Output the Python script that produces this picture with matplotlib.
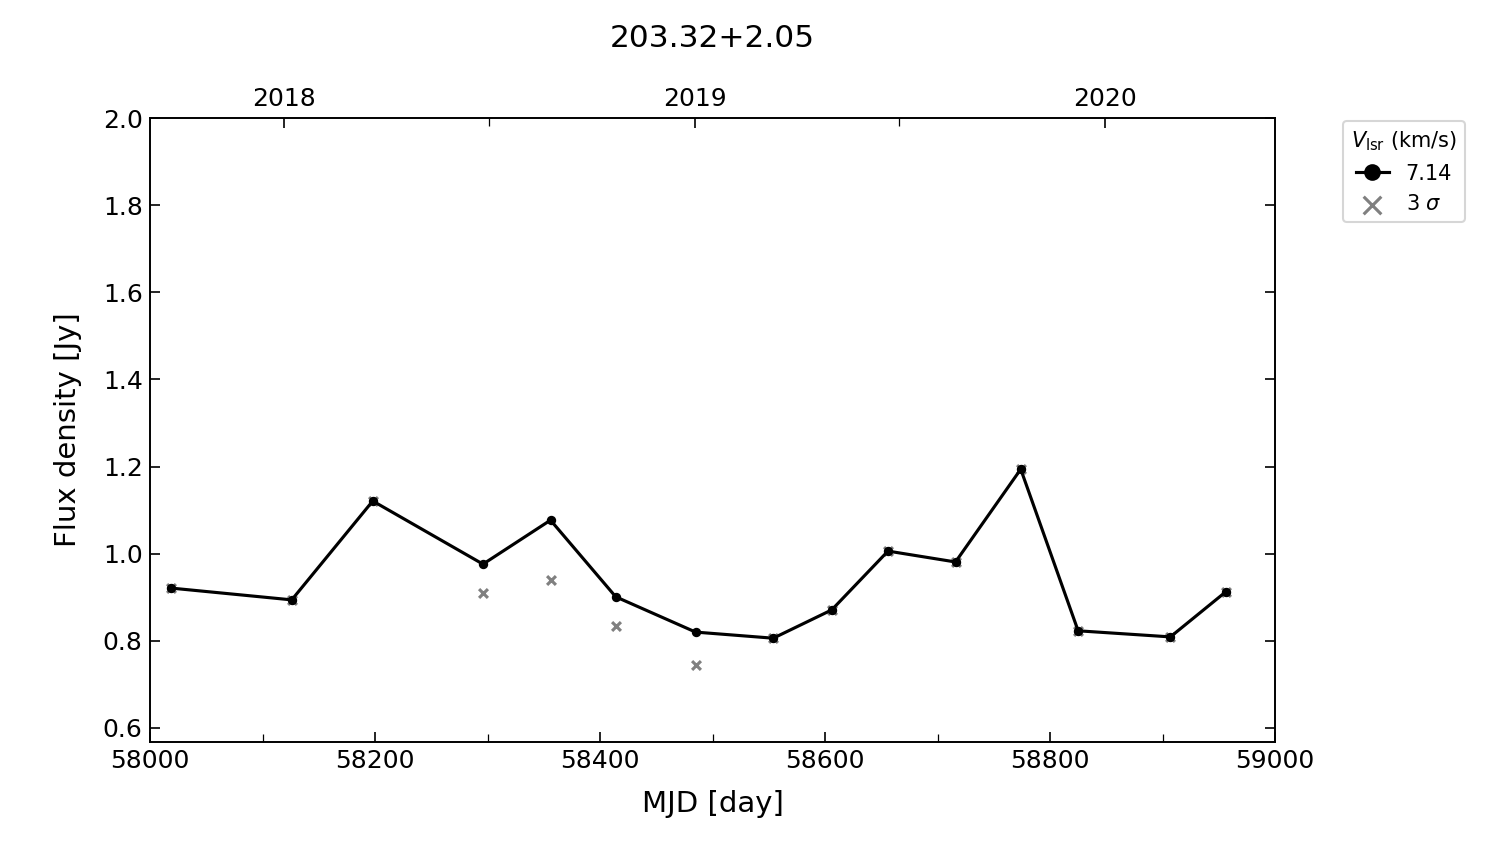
import datetime
import matplotlib
matplotlib.use('Agg')
import matplotlib.pyplot as plt
from matplotlib.ticker import MultipleLocator

# light curve of 203.32+2.05, Vlsr = 7.14 km/s
mjd = [58019, 58126, 58198, 58296, 58356, 58414, 58485, 58554,
       58606, 58656, 58716, 58774, 58825, 58907, 58956]
flux = [0.921, 0.894, 1.121, 0.976, 1.077, 0.901, 0.820, 0.806,
        0.871, 1.006, 0.981, 1.194, 0.823, 0.809, 0.912]
sigma3 = [0.921, 0.894, 1.121, 0.910, 0.940, 0.834, 0.745, 0.806,
          0.871, 1.006, 0.981, 1.194, 0.823, 0.809, 0.912]
years = [2018, 2019, 2020]


def to_mjd(d):
    return (d - datetime.date(1858, 11, 17)).days


fig = plt.figure(figsize=(10, 5.627), dpi=150)
ax = fig.add_axes([0.1, 0.121, 0.75, 0.739])

ax.scatter(mjd, sigma3, marker='x', color='gray', s=18, linewidths=1.5, zorder=2, label='3 $\\sigma$')
ax.plot(mjd, flux, '-o', color='black', lw=1.5, ms=3.5, zorder=3, label='7.14')

ax.set_xlim(58000, 59000)
ax.set_ylim(0.568, 2.0)
ax.xaxis.set_major_locator(MultipleLocator(200))
ax.xaxis.set_minor_locator(MultipleLocator(100))
ax.yaxis.set_major_locator(MultipleLocator(0.2))
ax.tick_params(which='both', direction='in', right=True, labelsize=12)
ax.tick_params(which='major', length=5)
ax.tick_params(which='minor', length=4)
ax.set_xlabel('MJD [day]', fontsize=14, labelpad=8)
ax.set_ylabel('Flux density [Jy]', fontsize=14, labelpad=10)

# year axis on top
ax2 = ax.twiny()
ax2.set_xlim(ax.get_xlim())
ax2.set_xticks([to_mjd(datetime.date(y, 1, 1)) for y in years])
ax2.set_xticklabels([str(y) for y in years])
ax2.set_xticks([to_mjd(datetime.date(y, 7, 2)) for y in years[:-1]], minor=True)
ax2.tick_params(which='both', direction='in', labelsize=12)
ax2.tick_params(which='major', length=5)
ax2.tick_params(which='minor', length=4)

h, l = ax.get_legend_handles_labels()
ax.legend(h[::-1], l[::-1], title='$V_{\\rm lsr}$ (km/s)', loc='upper left',
          bbox_to_anchor=(1.06, 0.995), markerscale=2, fontsize=10,
          title_fontsize=10, handlelength=1.6, borderaxespad=0)

fig.suptitle('203.32+2.05', fontsize=15, x=0.475, y=0.972)

fig.savefig('out.png', dpi=150)
